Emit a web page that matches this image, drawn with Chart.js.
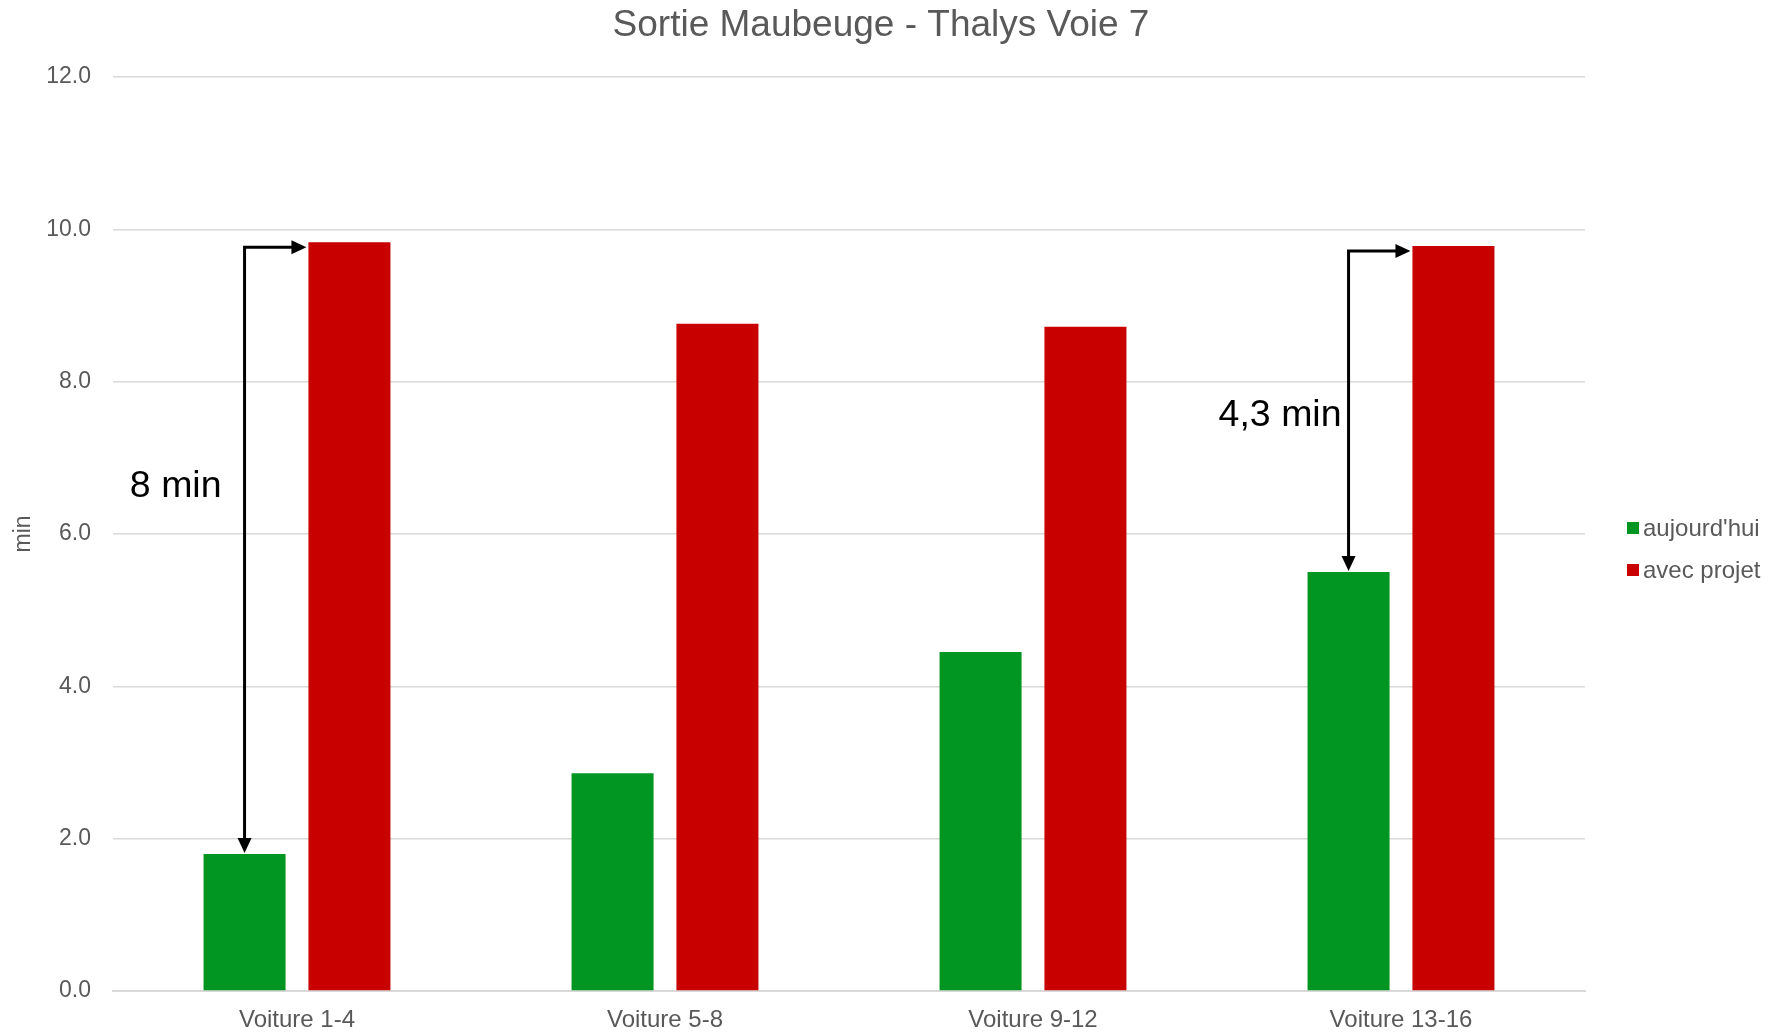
<!DOCTYPE html>
<html>
<head>
<meta charset="utf-8">
<script src="https://cdn.jsdelivr.net/npm/chart.js@4/dist/chart.umd.min.js"></script>
<style>
  html, body { margin: 0; padding: 0; background: #ffffff; }
  #wrap { width: 1788px; height: 1032px; position: relative; }
</style>
</head>
<body>
<div id="wrap"><canvas id="c"></canvas></div>
<script>
// Walking time (minutes) to the Maubeuge exit, per group of coaches
const categories = ['Voiture 1-4', 'Voiture 5-8', 'Voiture 9-12', 'Voiture 13-16'];
const aujourdhui = [1.80, 2.86, 4.45, 5.50];
const avecProjet = [9.83, 8.76, 8.72, 9.78];
const yTicks = [0, 2, 4, 6, 8, 10, 12];
const seriesNames = ["aujourd'hui", 'avec projet'];

// Gap call-outs: which coach group, and the text printed next to the arrow
const gapCategories = [0, 3];
const gapLabels = ['8 min', '4,3 min'];

const FONT = '"Liberation Sans", Arial, Helvetica, sans-serif';
const GREY = '#595959';
const GREEN = '#009621';
const RED = '#c80000';

// Elbow arrows from the "today" bar up to the "with project" bar
const gapArrows = {
  id: 'gapArrows',
  afterDatasetsDraw(chart, args, opts) {
    const ctx = chart.ctx;
    const g = chart.getDatasetMeta(0).data;
    const r = chart.getDatasetMeta(1).data;
    const ys = chart.scales.y;
    const head = 15, half = 7;
    gapCategories.forEach((ci, k) => {
      const gb = g[ci], rb = r[ci];
      const x = gb.x;
      const yLow = gb.y - 1;
      const yHigh = rb.y + 5;
      const xEnd = rb.x - rb.width / 2 - 2;
      ctx.save();
      ctx.strokeStyle = '#000';
      ctx.fillStyle = '#000';
      ctx.lineWidth = 3;
      ctx.beginPath();
      ctx.moveTo(x, yLow - head + 1);
      ctx.lineTo(x, yHigh);
      ctx.lineTo(xEnd - head + 1, yHigh);
      ctx.stroke();
      ctx.beginPath();
      ctx.moveTo(x - half, yLow - head);
      ctx.lineTo(x + half, yLow - head);
      ctx.lineTo(x, yLow);
      ctx.closePath();
      ctx.fill();
      ctx.beginPath();
      ctx.moveTo(xEnd - head, yHigh - half);
      ctx.lineTo(xEnd - head, yHigh + half);
      ctx.lineTo(xEnd, yHigh);
      ctx.closePath();
      ctx.fill();
      ctx.font = '37.5px ' + FONT;
      ctx.textAlign = 'right';
      ctx.textBaseline = 'middle';
      ctx.fillText(gapLabels[k], x - opts.labelGap[k], ys.getPixelForValue(opts.labelAt[k]));
      ctx.restore();
    });
  }
};

// Legend drawn to the right of the plot area
const sideLegend = {
  id: 'sideLegend',
  afterDraw(chart, args, opts) {
    const ctx = chart.ctx;
    const area = chart.chartArea;
    ctx.save();
    ctx.font = '24px ' + FONT;
    ctx.textBaseline = 'middle';
    ctx.textAlign = 'left';
    chart.data.datasets.forEach((d, i) => {
      const cy = opts.top + i * opts.spacing;
      const x0 = area.right + opts.gap;
      ctx.fillStyle = d.backgroundColor;
      ctx.fillRect(x0, cy - 6, 12, 12);
      ctx.fillStyle = GREY;
      ctx.fillText(d.label, x0 + 16, cy + 1);
    });
    ctx.restore();
  }
};

new Chart(document.getElementById('c'), {
  type: 'bar',
  data: {
    labels: categories,
    datasets: [
      { label: seriesNames[0], data: aujourdhui, backgroundColor: GREEN },
      { label: seriesNames[1], data: avecProjet, backgroundColor: RED }
    ]
  },
  plugins: [gapArrows, sideLegend],
  options: {
    responsive: true,
    maintainAspectRatio: false,
    animation: false,
    devicePixelRatio: 1,
    layout: { padding: { left: 0, right: 26, top: 0, bottom: 0 } },
    datasets: {
      bar: { categoryPercentage: 0.570, barPercentage: 0.782 }
    },
    plugins: {
      legend: { display: false },
      tooltip: { enabled: false },
      title: {
        display: true,
        text: 'Sortie Maubeuge - Thalys Voie 7',
        color: GREY,
        font: { family: FONT, size: 37, weight: 'normal' },
        padding: { top: 4, bottom: 28.6 }
      },
      gapArrows: { labelGap: [23, 7], labelAt: [6.62, 7.55] },
      sideLegend: { gap: 42, top: 528, spacing: 42 }
    },
    scales: {
      x: {
        grid: { display: false, drawTicks: false },
        border: { display: true, color: '#d9d9d9', width: 2 },
        ticks: {
          color: GREY,
          font: { family: FONT, size: 24 },
          padding: 15
        },
        afterFit(scale) { scale.height = 41; }
      },
      y: {
        min: 0,
        max: 12,
        afterBuildTicks(scale) { scale.ticks = yTicks.map(v => ({ value: v })); },
        grid: { color: '#d9d9d9', lineWidth: 1.5, drawTicks: false },
        border: { display: false },
        ticks: {
          color: GREY,
          font: { family: FONT, size: 23 },
          padding: 22,
          callback: v => Number(v).toFixed(1)
        },
        title: {
          display: true,
          text: 'min',
          color: GREY,
          font: { family: FONT, size: 23 },
          padding: { top: 10, bottom: 0 }
        },
        afterFit(scale) { scale.width = 113; }
      },
      // empty axis that keeps room for the legend on the right
      legendRoom: {
        type: 'linear',
        position: 'right',
        display: true,
        grid: { display: false, drawTicks: false },
        border: { display: false },
        ticks: { display: false },
        afterFit(scale) { scale.width = 177; }
      }
    }
  }
});
</script>
</body>
</html>
